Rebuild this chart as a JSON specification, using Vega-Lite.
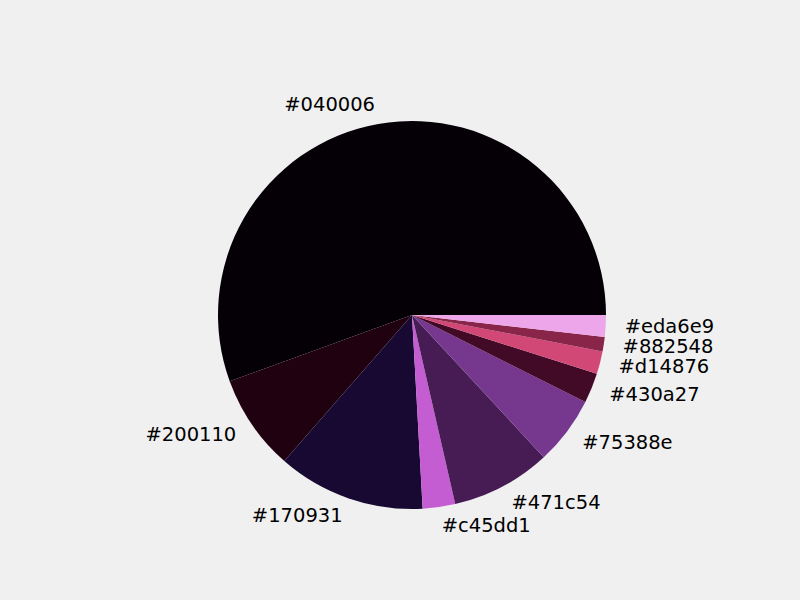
{
  "$schema": "https://vega.github.io/schema/vega-lite/v6.json",
  "width": 388,
  "height": 388,
  "autosize": "none",
  "padding": {"left": 218, "top": 121, "right": 194, "bottom": 91},
  "background": "#f0f0f0",
  "config": {"view": {"stroke": null}},
  "data": {
    "values": [
      {"order": 1, "color": "#040006", "value": 55.5},
      {"order": 2, "color": "#200110", "value": 8.0},
      {"order": 3, "color": "#170931", "value": 12.3},
      {"order": 4, "color": "#c45dd1", "value": 2.7},
      {"order": 5, "color": "#471c54", "value": 8.3},
      {"order": 6, "color": "#75388e", "value": 5.7},
      {"order": 7, "color": "#430a27", "value": 2.5},
      {"order": 8, "color": "#d14876", "value": 1.9},
      {"order": 9, "color": "#882548", "value": 1.2},
      {"order": 10, "color": "#eda6e9", "value": 1.8}
    ]
  },
  "encoding": {
    "theta": {"field": "value", "type": "quantitative", "stack": true, "scale": {"range": [1.5707963, -4.712389]}},
    "order": {"field": "order", "type": "quantitative"}
  },
  "layer": [
    {
      "mark": {"type": "arc", "outerRadius": 194},
      "encoding": {
        "color": {"field": "color", "type": "nominal", "scale": null, "legend": null}
      }
    },
    {
      "mark": {
        "type": "text",
        "radius": 213,
        "font": "DejaVu Sans",
        "fontSize": 19.5,
        "fill": "black",
        "baseline": "middle",
        "align": {"expr": "indexof(['#040006','#200110','#170931'], datum.color) >= 0 ? 'right' : 'left'"}
      },
      "encoding": {
        "text": {"field": "color", "type": "nominal"}
      }
    }
  ]
}
